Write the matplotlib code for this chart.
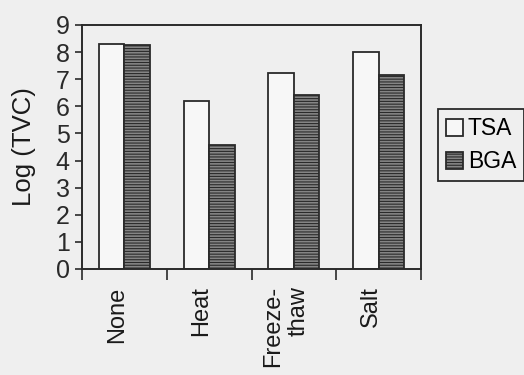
import numpy as np
import matplotlib
matplotlib.use("Agg")
import matplotlib.pyplot as plt

# data
treatments = ["None", "Heat", "Freeze-\nthaw", "Salt"]
tsa = [8.28, 6.21, 7.23, 8.02]
bga = [8.26, 4.59, 6.40, 7.15]
series_names = ["TSA", "BGA"]

plt.rcParams['font.family'] = ['Liberation Sans', 'DejaVu Sans']
plt.rcParams['hatch.color'] = '#555555'
plt.rcParams['hatch.linewidth'] = 0.8

bg = '#efefef'
fig = plt.figure(figsize=(5.24, 3.75), dpi=100, facecolor=bg)
ax = fig.add_axes([0.1565, 0.2827, 0.647, 0.6507], facecolor=bg)

x = np.arange(len(treatments))
w = 0.3
ax.bar(x - w / 2, tsa, w, color='#f7f7f7', edgecolor='#2a2a2a', linewidth=1.3,
       label=series_names[0])
ax.bar(x + w / 2, bga, w, color='#858585', edgecolor='#2a2a2a', linewidth=1.3,
       hatch='------', label=series_names[1])

ax.set_xlim(-0.5, len(treatments) - 0.5)
ax.set_ylim(0, 9)
ax.set_yticks(range(0, 10))
ax.tick_params(axis='y', direction='out', length=5, width=1.2, labelsize=18,
               pad=4, colors='#2a2a2a')

# group boundary ticks, labels placed separately
ax.set_xticks(np.arange(len(treatments) + 1) - 0.5)
ax.set_xticklabels([])
ax.tick_params(axis='x', which='major', direction='out', length=8, width=1.2,
               colors='#2a2a2a')
ax.set_xticks(x - 0.09, minor=True)
ax.set_xticklabels(treatments, minor=True, rotation=90, fontsize=17,
                   va='top', ha='center', multialignment='right')
ax.tick_params(axis='x', which='minor', length=0, pad=12.5, colors='#1a1a1a')

for s in ax.spines.values():
    s.set_color('#2a2a2a')
    s.set_linewidth(1.4)

ax.set_ylabel("Log (TVC)", fontsize=18.5, color='#1a1a1a', labelpad=14)

leg = ax.legend(loc='upper left', bbox_to_anchor=(0.836, 0.709),
                bbox_transform=fig.transFigure, fontsize=16.5, frameon=True,
                fancybox=False, handlelength=0.75, handleheight=0.75,
                handletextpad=0.2, labelspacing=0.45, borderpad=0.35,
                borderaxespad=0)
leg.get_frame().set_edgecolor('#2a2a2a')
leg.get_frame().set_linewidth(1.3)
leg.get_frame().set_facecolor(bg)
leg.get_frame().set_alpha(1)

fig.savefig("out.png", dpi=100, facecolor=bg)
